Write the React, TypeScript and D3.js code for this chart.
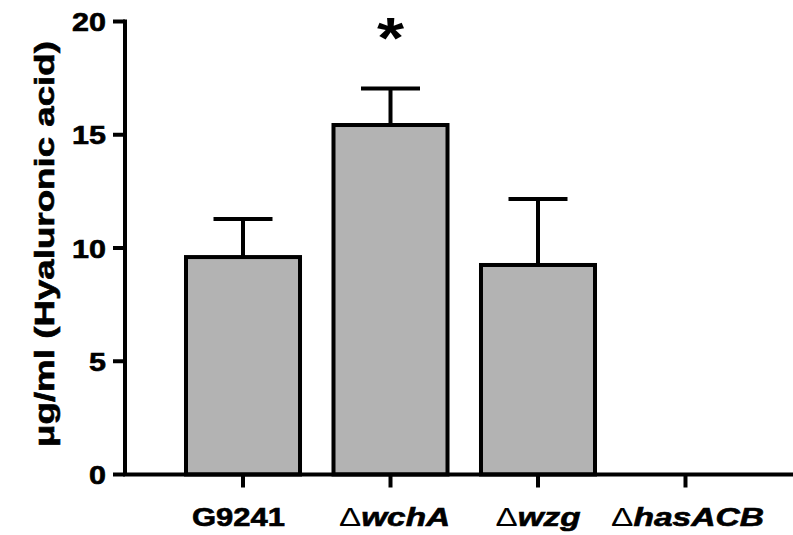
import React from "react";
import * as d3 from "d3";

const categories = ["G9241", "wchA", "wzg", "hasACB"];
const hasDelta = [false, true, true, true];
const means = [9.6, 15.43, 9.25, 0];
const errors = [1.68, 1.61, 2.91, 0];
const yTicks = [0, 5, 10, 15, 20];
const significance = ["", "*", "", ""];
const yTitle = "μg/ml (Hyaluronic acid)";

const W = 793;
const H = 535;
const FONT = "'Liberation Sans', Arial, Helvetica, sans-serif";
// rendered label widths (layout only)
const labelLengths = [93, 111, 85, 153];
const labelShift = [-4.5, 4, 0, 2];

export default function App() {
  const y = d3.scaleLinear().domain([0, 20]).range([474.5, 21.5]);
  const x = d3
    .scaleBand<string>()
    .domain(categories)
    .range([186, 742.5])
    .paddingInner(0.227)
    .paddingOuter(0);
  const bw = x.bandwidth();
  const axisX = 125;
  const sw = 4;
  const capW = 59;
  const ts = 0.6;

  return (
    <svg
      width={W}
      height={H}
      style={{ position: "absolute", left: 0, top: 0, background: "#fff" }}
      fontFamily={FONT}
    >
      {categories.map((c, i) =>
        means[i] > 0 ? (
          <rect
            key={"bar" + c}
            x={x(c)!}
            y={y(means[i])}
            width={bw}
            height={y(0) - y(means[i])}
            fill="#b3b3b3"
            stroke="#000"
            strokeWidth={sw}
          />
        ) : null
      )}
      {categories.map((c, i) => {
        if (means[i] <= 0) return null;
        const cx = x(c)! + bw / 2;
        return (
          <g key={"err" + c} stroke="#000" strokeWidth={sw}>
            <line x1={cx} x2={cx} y1={y(means[i])} y2={y(means[i] + errors[i])} />
            <line
              x1={cx - capW / 2}
              x2={cx + capW / 2}
              y1={y(means[i] + errors[i])}
              y2={y(means[i] + errors[i])}
            />
          </g>
        );
      })}
      {categories.map((c, i) =>
        significance[i] ? (
          <text
            key={"sig" + c}
            transform={`translate(${x(c)! + bw / 2},${58}) scale(1.2,1)`}
            textAnchor="middle"
            fontSize={58}
            fontWeight="bold"
          >
            {significance[i]}
          </text>
        ) : null
      )}
      <line x1={axisX} x2={axisX} y1={y(20) - sw / 2} y2={y(0)} stroke="#000" strokeWidth={sw} />
      {yTicks.map((t) => (
        <g key={"yt" + t}>
          <line x1={axisX - 12} x2={axisX} y1={y(t)} y2={y(t)} stroke="#000" strokeWidth={sw} />
          <text
            transform={`translate(${106},${y(t) + 9.5}) scale(1.22,1)`}
            textAnchor="end"
            fontSize={25}
            fontWeight="bold"
            stroke="#000"
            strokeWidth={ts}
          >
            {t}
          </text>
        </g>
      ))}
      <text
        transform={`translate(${54},${244}) rotate(-90) scale(1.36,1)`}
        textAnchor="middle"
        fontSize={27}
        fontWeight="bold"
        stroke="#000"
        strokeWidth={ts}
      >
        {yTitle}
      </text>
      <line x1={axisX - sw / 2} x2={W} y1={y(0)} y2={y(0)} stroke="#000" strokeWidth={sw} />
      {categories.map((c, i) => {
        const cx = x(c)! + bw / 2;
        return (
          <g key={"xt" + c}>
            <line x1={cx} x2={cx} y1={y(0)} y2={y(0) + 13} stroke="#000" strokeWidth={sw} />
            <text
              x={cx + labelShift[i]}
              y={526}
              textAnchor="middle"
              fontSize={25}
              fontWeight="bold"
              stroke="#000"
              strokeWidth={ts}
              textLength={labelLengths[i]}
              lengthAdjust="spacingAndGlyphs"
            >
              {hasDelta[i] ? (
                <>
                  <tspan fontWeight="normal" strokeWidth={0}>Δ</tspan>
                  <tspan fontStyle="italic">{c}</tspan>
                </>
              ) : (
                c
              )}
            </text>
          </g>
        );
      })}
    </svg>
  );
}
